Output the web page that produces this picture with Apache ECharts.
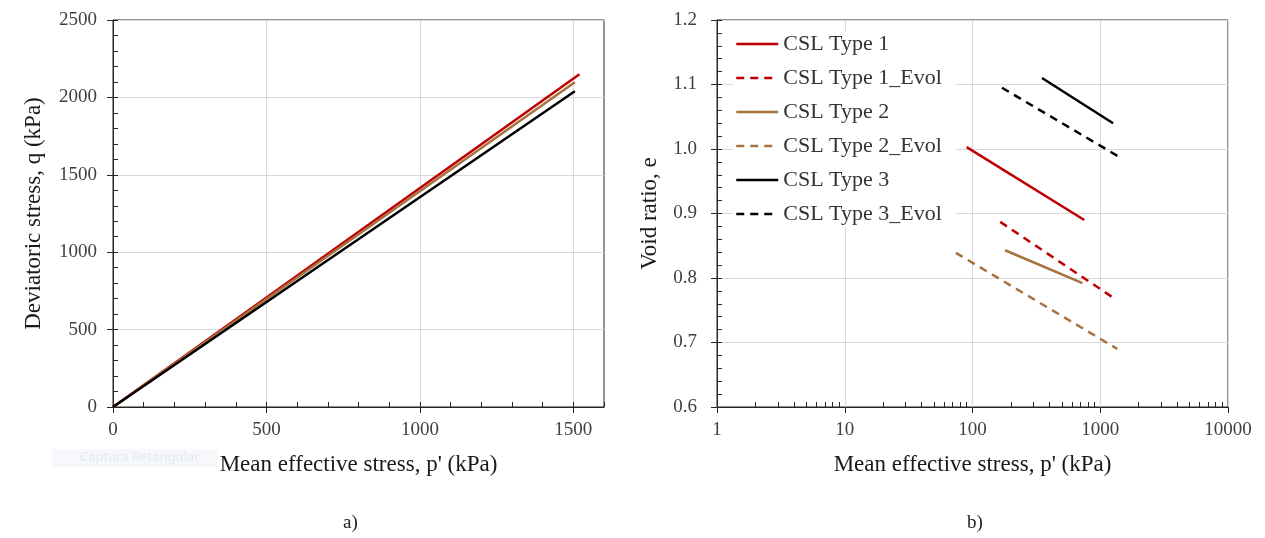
<!DOCTYPE html>
<html>
<head>
<meta charset="utf-8">
<script src="https://cdn.jsdelivr.net/npm/echarts@6/dist/echarts.min.js"></script>
<style>
  html, body { margin: 0; padding: 0; background: #ffffff; }
  #chart { width: 1265px; height: 538px; }
</style>
</head>
<body>
<div id="chart"></div>
<script>
// ---- Data ----
// a) q - p' lines
const qpType1 = [[0, 0], [1520, 2150]];
const qpType2 = [[0, 0], [1505, 2098]];
const qpType3 = [[0, 0], [1505, 2040]];
const xTicksA = [0, 500, 1000, 1500];
const yTicksA = [0, 500, 1000, 1500, 2000, 2500];

// b) e - log p' critical state lines
const cslType1 = [[90, 1.003], [750, 0.890]];
const cslType1Evol = [[165, 0.887], [1250, 0.770]];
const cslType2 = [[180, 0.843], [725, 0.792]];
const cslType2Evol = [[74, 0.839], [1360, 0.690]];
const cslType3 = [[350, 1.110], [1260, 1.040]];
const cslType3Evol = [[170, 1.095], [1400, 0.988]];
const legendNames = ['CSL Type 1', 'CSL Type 1_Evol', 'CSL Type 2', 'CSL Type 2_Evol', 'CSL Type 3', 'CSL Type 3_Evol'];

const RED = '#C00000', BROWN = '#A6723F', BLACK = '#000000';
const SERIF = '"Liberation Serif", "DejaVu Serif", serif';
const AXIS = '#262626', GRIDC = '#d9d9d9', LABEL = '#404040';

const chart = echarts.init(document.getElementById('chart'));

function mainAxisCommon(extra) {
  return Object.assign({
    axisLine: { show: true, onZero: false, lineStyle: { color: AXIS, width: 1 } },
    axisTick: { show: true, inside: false, length: 6, lineStyle: { color: AXIS } },
    splitLine: { show: true, lineStyle: { color: GRIDC, width: 1 } },
    axisLabel: { color: LABEL, fontFamily: SERIF, fontSize: 19, margin: 14 },
    nameLocation: 'middle',
    nameTextStyle: { color: '#1a1a1a', fontFamily: SERIF, fontSize: 23 }
  }, extra);
}
function minorAxis(extra) {
  return Object.assign({
    axisLine: { show: false },
    axisLabel: { show: false },
    splitLine: { show: false },
    axisTick: { show: true, inside: true, length: 5, lineStyle: { color: AXIS } }
  }, extra);
}
function lineSeries(name, data, color, dashed, xi, yi) {
  return {
    name: name, type: 'line', data: data, xAxisIndex: xi, yAxisIndex: yi,
    symbol: 'none', silent: true, animation: false,
    lineStyle: { color: color, width: 2.5, type: dashed ? [8, 6] : 'solid' },
    itemStyle: { color: color }
  };
}

const option = {
  backgroundColor: '#ffffff',
  animation: false,
  grid: [
    { left: 113, top: 20, width: 491, height: 387, show: true, borderColor: AXIS, borderWidth: 1, backgroundColor: 'transparent' },
    { left: 717, top: 20, width: 511, height: 387, show: true, borderColor: AXIS, borderWidth: 1, backgroundColor: 'transparent' }
  ],
  xAxis: [
    mainAxisCommon({
      gridIndex: 0, type: 'value', min: 0, max: 1600, interval: 500, position: 'bottom',
      name: "Mean effective stress, p' (kPa)", nameGap: 46,
      axisTick: { show: true, inside: false, length: 6, lineStyle: { color: AXIS }, customValues: xTicksA },
      axisLabel: { color: LABEL, fontFamily: SERIF, fontSize: 19, margin: 14, customValues: xTicksA, formatter: v => String(v) }
    }),
    minorAxis({ gridIndex: 0, type: 'value', min: 0, max: 1600, interval: 100, position: 'bottom' }),
    mainAxisCommon({
      gridIndex: 1, type: 'log', logBase: 10, min: 1, max: 10000, position: 'bottom',
      name: "Mean effective stress, p' (kPa)", nameGap: 46,
      axisLabel: { color: LABEL, fontFamily: SERIF, fontSize: 19, margin: 14, formatter: v => String(Math.round(v)) }
    }),
    minorAxis({
      gridIndex: 1, type: 'log', logBase: 10, min: 1, max: 10000, position: 'bottom',
      axisTick: { show: false, inside: true },
      minorTick: { show: true, splitNumber: 9, length: 5, lineStyle: { color: AXIS } }
    })
  ],
  yAxis: [
    mainAxisCommon({
      gridIndex: 0, type: 'value', min: 0, max: 2500, interval: 500, position: 'left',
      name: 'Deviatoric stress, q (kPa)', nameGap: 68,
      axisLabel: { color: LABEL, fontFamily: SERIF, fontSize: 19, margin: 16, formatter: v => String(v) }
    }),
    minorAxis({ gridIndex: 0, type: 'value', min: 0, max: 2500, interval: 100, position: 'left' }),
    mainAxisCommon({
      gridIndex: 1, type: 'value', min: 0.6, max: 1.2, interval: 0.1, position: 'left',
      name: 'Void ratio, e', nameGap: 56,
      axisLabel: { color: LABEL, fontFamily: SERIF, fontSize: 19, margin: 20, formatter: v => v.toFixed(1) }
    }),
    minorAxis({ gridIndex: 1, type: 'value', min: 0.6, max: 1.2, interval: 0.02, position: 'left' })
  ],
  legend: {
    data: legendNames,
    orient: 'vertical',
    left: 733, top: 31,
    itemWidth: 42, itemHeight: 14, itemGap: 12,
    padding: [2, 14, 2, 2],
    backgroundColor: '#ffffff',
    itemStyle: { opacity: 0, borderWidth: 0 },
    lineStyle: { width: 2.5 },
    textStyle: { fontFamily: SERIF, fontSize: 22, color: '#333333', lineHeight: 21 },
    selectedMode: false
  },
  series: [
    lineSeries('q-p Type 1', qpType1, RED, false, 0, 0),
    lineSeries('q-p Type 2', qpType2, BROWN, false, 0, 0),
    lineSeries('q-p Type 3', qpType3, BLACK, false, 0, 0),
    lineSeries('CSL Type 1', cslType1, RED, false, 2, 2),
    lineSeries('CSL Type 1_Evol', cslType1Evol, RED, true, 2, 2),
    lineSeries('CSL Type 2', cslType2, BROWN, false, 2, 2),
    lineSeries('CSL Type 2_Evol', cslType2Evol, BROWN, true, 2, 2),
    lineSeries('CSL Type 3', cslType3, BLACK, false, 2, 2),
    lineSeries('CSL Type 3_Evol', cslType3Evol, BLACK, true, 2, 2)
  ],
  graphic: [
    { type: 'text', left: 343, top: 514, style: { text: 'a)', font: '19px ' + SERIF, fill: '#222' } },
    { type: 'text', left: 967, top: 514, style: { text: 'b)', font: '19px ' + SERIF, fill: '#222' } },
    { type: 'rect', left: 52, top: 449, shape: { width: 165, height: 18 }, style: { fill: '#f6f8fc' }, z: -1 },
    { type: 'text', left: 80, top: 451, style: { text: 'Captura Retangular', font: '13px "Noto Sans", sans-serif', fill: '#e4e8f0' } }
  ]
};
chart.setOption(option);
</script>
</body>
</html>
